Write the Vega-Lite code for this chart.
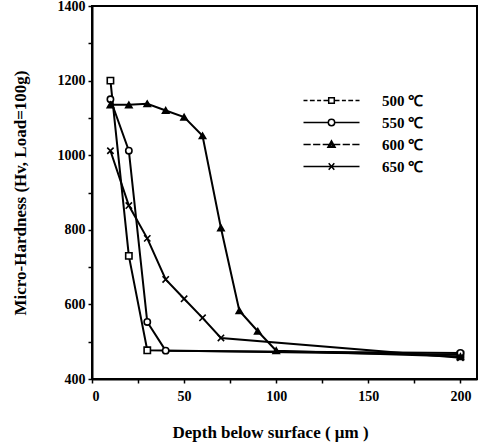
{
  "$schema": "https://vega.github.io/schema/vega-lite/v6.json",
  "width": 385,
  "height": 373,
  "autosize": {"type": "none"},
  "padding": {"left": 92, "top": 6, "right": 11, "bottom": 67},
  "background": "white",
  "config": {
    "view": {"stroke": "black", "strokeWidth": 2},
    "axis": {
      "grid": false,
      "domainColor": "black",
      "domainWidth": 2,
      "tickColor": "black",
      "tickWidth": 1.5,
      "tickSize": 4,
      "labelFont": "Liberation Serif",
      "labelFontWeight": "bold",
      "labelFontSize": 14,
      "labelColor": "black",
      "titleFont": "Liberation Serif",
      "titleFontWeight": "bold",
      "titleFontSize": 17,
      "titleColor": "black"
    }
  },
  "data": {
    "values": [
      {"series": "500 ℃", "depth": 10, "hv": 1200},
      {"series": "500 ℃", "depth": 20, "hv": 730},
      {"series": "500 ℃", "depth": 30, "hv": 477},
      {"series": "500 ℃", "depth": 200, "hv": 465},
      {"series": "550 ℃", "depth": 10, "hv": 1150},
      {"series": "550 ℃", "depth": 20, "hv": 1012},
      {"series": "550 ℃", "depth": 30, "hv": 553},
      {"series": "550 ℃", "depth": 40, "hv": 476},
      {"series": "550 ℃", "depth": 200, "hv": 470},
      {"series": "600 ℃", "depth": 10, "hv": 1135},
      {"series": "600 ℃", "depth": 20, "hv": 1135},
      {"series": "600 ℃", "depth": 30, "hv": 1138},
      {"series": "600 ℃", "depth": 40, "hv": 1120},
      {"series": "600 ℃", "depth": 50, "hv": 1102},
      {"series": "600 ℃", "depth": 60, "hv": 1052},
      {"series": "600 ℃", "depth": 70, "hv": 805},
      {"series": "600 ℃", "depth": 80, "hv": 583},
      {"series": "600 ℃", "depth": 90, "hv": 528},
      {"series": "600 ℃", "depth": 100, "hv": 476},
      {"series": "600 ℃", "depth": 200, "hv": 460},
      {"series": "650 ℃", "depth": 10, "hv": 1012},
      {"series": "650 ℃", "depth": 20, "hv": 865},
      {"series": "650 ℃", "depth": 30, "hv": 777},
      {"series": "650 ℃", "depth": 40, "hv": 667},
      {"series": "650 ℃", "depth": 50, "hv": 615},
      {"series": "650 ℃", "depth": 60, "hv": 564},
      {"series": "650 ℃", "depth": 70, "hv": 510},
      {"series": "650 ℃", "depth": 200, "hv": 457}
    ]
  },
  "encoding": {
    "x": {
      "field": "depth",
      "type": "quantitative",
      "scale": {"domain": [0, 209], "nice": false},
      "axis": {
        "values": [0, 25, 50, 75, 100, 125, 150, 175, 200],
        "format": "d",
        "labelExpr": "datum.value % 50 == 0 ? datum.label : ''",
        "labelPadding": 6,
        "title": "Depth below surface (  μm )",
        "titleX": 178,
        "titleY": 45,
        "titleBaseline": "top"
      }
    },
    "y": {
      "field": "hv",
      "type": "quantitative",
      "scale": {"domain": [400, 1400], "nice": false},
      "axis": {
        "values": [400, 500, 600, 700, 800, 900, 1000, 1100, 1200, 1300, 1400],
        "format": "d",
        "labelExpr": "datum.value % 200 == 0 ? datum.label : ''",
        "labelPadding": 3,
        "title": "Micro-Hardness (Hv, Load=100g)",
        "titleX": -72,
        "titleBaseline": "middle"
      }
    }
  },
  "layer": [
    {
      "mark": {"type": "line", "color": "black", "strokeWidth": 2},
      "encoding": {"detail": {"field": "series"}}
    },
    {
      "mark": {"type": "point", "stroke": "black", "strokeWidth": 1.6, "size": 40, "opacity": 1},
      "encoding": {
        "shape": {
          "field": "series",
          "scale": {
            "domain": ["500 ℃", "550 ℃", "600 ℃", "650 ℃"],
            "range": ["square", "circle", "triangle-up", "M-1,-1L1,1M1,-1L-1,1"]
          },
          "legend": null
        },
        "fill": {
          "field": "series",
          "scale": {
            "domain": ["500 ℃", "550 ℃", "600 ℃", "650 ℃"],
            "range": ["white", "white", "black", "black"]
          },
          "legend": null
        }
      }
    },
    {
      "transform": [{"filter": "datum.hv < 0"}],
      "mark": {"type": "point", "color": "black", "filled": false, "strokeWidth": 1.5},
      "encoding": {
        "shape": {
          "field": "series",
          "scale": {
            "domain": ["500 ℃", "550 ℃", "600 ℃", "650 ℃"],
            "range": [
              "M-7,0H-6M-5.4,0H-4.2M-3.6,0H-2.6M-2,0H-0.8M0.8,0H2M2.6,0H3.6M4.2,0H5.4M6,0H7M-0.7,-0.7H0.7V0.7H-0.7Z",
              "M-7,0H-0.8M0.8,0H7M-0.8,0A0.8,0.8 0 1,0 0.8,0A0.8,0.8 0 1,0 -0.8,0Z",
              "M-7,0H-5.2M-4.6,0H-2.8M-2.2,0H-0.6M0.6,0H2.2M2.8,0H4.6M5.2,0H7M0,-0.9L0.9,0.7H-0.9ZM0,-0.45L0.45,0.35H-0.45Z",
              "M-7,0H7M-0.7,-0.8L0.7,0.8M0.7,-0.8L-0.7,0.8"
            ]
          },
          "legend": {
            "orient": "none",
            "legendX": 232,
            "legendY": 87,
            "title": null,
            "padding": 0,
            "symbolSize": 64,
            "symbolStrokeWidth": 1.5,
            "symbolStrokeColor": "black",
            "symbolOpacity": 1,
            "rowPadding": 6,
            "labelOffset": 43,
            "labelFont": "Liberation Serif",
            "labelFontWeight": "bold",
            "labelFontSize": 15,
            "labelColor": "black"
          }
        }
      }
    }
  ],
  "resolve": {"scale": {"shape": "independent"}}
}
